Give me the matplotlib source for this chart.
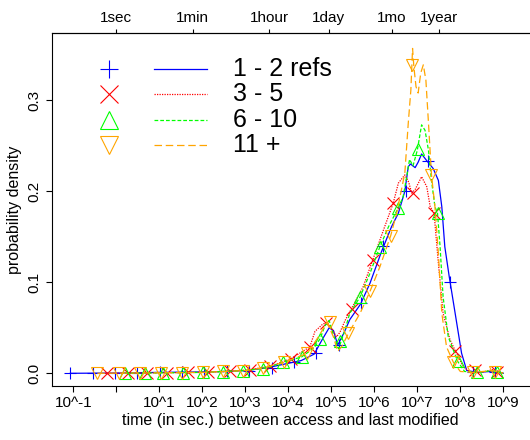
import numpy as np
import matplotlib.pyplot as plt
from matplotlib.lines import Line2D

plt.rcParams['font.family'] = ['Liberation Sans', 'DejaVu Sans']

# density curves, x = log10(seconds)
blue_x = [-1.07, 0, 1, 2, 2.5, 3, 3.5, 4, 4.3, 4.6, 4.8, 4.95, 5.05, 5.15, 5.3, 5.43, 5.68, 5.9,
          6.17, 6.4, 6.56, 6.71, 6.79, 6.84, 6.95, 7.02, 7.1, 7.23, 7.37, 7.49, 7.57, 7.64, 7.74,
          7.88, 8.03, 8.15, 8.4, 8.7, 8.85, 9.0]
blue_y = [0, 0.0003, 0.001, 0.0015, 0.002, 0.003, 0.006, 0.011, 0.014, 0.021, 0.038, 0.05, 0.047,
          0.031, 0.045, 0.059, 0.076, 0.099, 0.134, 0.161, 0.176, 0.2, 0.227, 0.23, 0.226, 0.232,
          0.241, 0.233, 0.225, 0.212, 0.183, 0.139, 0.107, 0.066, 0.022, 0.003, 0.001, 0.002, 0.001, 0.0]

red_x = [-0.26, 1, 2, 2.6, 3.1, 3.6, 4.06, 4.5, 4.62, 4.8, 4.9, 5.0, 5.12, 5.2, 5.32, 5.47, 5.74,
         5.96, 6.21, 6.44, 6.56, 6.71, 6.8, 6.87, 6.95, 7.1, 7.22, 7.3, 7.39, 7.49, 7.6, 7.76, 7.88,
         8.07, 8.25, 8.5, 8.75, 8.9, 9.0]
red_y = [0, 0.0005, 0.001, 0.002, 0.004, 0.008, 0.016, 0.029, 0.046, 0.054, 0.056, 0.05, 0.04,
         0.045, 0.058, 0.071, 0.095, 0.124, 0.157, 0.187, 0.209, 0.218, 0.21, 0.198, 0.202, 0.216,
         0.205, 0.183, 0.176, 0.121, 0.066, 0.037, 0.025, 0.007, 0.001, 0.001, 0.004, 0.002, 0.0]

green_x = [0.2, 1, 2, 2.5, 3, 3.5, 3.88, 4.31, 4.6, 4.74, 4.85, 4.95, 5.05, 5.17, 5.3, 5.43, 5.67,
           5.9, 6.13, 6.33, 6.56, 6.67, 6.75, 6.82, 6.9, 7.0, 7.1, 7.18, 7.26, 7.33, 7.41, 7.47,
           7.53, 7.6, 7.72, 7.94, 8.1, 8.4, 8.75, 9.0]
green_y = [0, 0.0005, 0.001, 0.002, 0.003, 0.006, 0.012, 0.018, 0.028, 0.038, 0.052, 0.058, 0.042,
           0.027, 0.045, 0.066, 0.084, 0.11, 0.139, 0.161, 0.182, 0.194, 0.215, 0.235, 0.228, 0.245,
           0.273, 0.267, 0.245, 0.212, 0.183, 0.176, 0.139, 0.084, 0.04, 0.013, 0.002, 0.001, 0.003, 0.0]

orange_x = [-0.44, 1, 2, 2.5, 3, 3.42, 3.9, 4.44, 4.7, 4.9, 5.05, 5.15, 5.25, 5.4, 5.67, 5.9, 6.13,
            6.38, 6.52, 6.71, 6.79, 6.85, 6.89, 6.92, 6.97, 7.02, 7.08, 7.14, 7.2, 7.26, 7.33, 7.41,
            7.49, 7.57, 7.68, 7.84, 8.0, 8.3, 8.75, 9.0]
orange_y = [0, 0.0005, 0.001, 0.002, 0.003, 0.006, 0.012, 0.022, 0.04, 0.056, 0.04, 0.024, 0.03,
            0.044, 0.066, 0.09, 0.117, 0.151, 0.176, 0.22, 0.275, 0.311, 0.357, 0.337, 0.315, 0.308,
            0.33, 0.339, 0.322, 0.275, 0.218, 0.183, 0.132, 0.066, 0.029, 0.012, 0.002, 0.001, 0.003, 0.0]

# marker points along each curve
blue_mx = [-1.07, -0.55, -0.03, 0.49, 1.01, 1.53, 2.05, 2.57, 3.09, 3.61, 4.13, 4.65, 5.17, 5.69,
           6.21, 6.73, 7.25, 7.77, 8.29, 8.81]
blue_my = [0, 0, 0, 0.0005, 0.001, 0.001, 0.0015, 0.002, 0.003, 0.006, 0.012, 0.022, 0.031, 0.077,
           0.14, 0.2, 0.233, 0.1, 0.001, 0.001]
red_mx = [-0.22, 0.28, 0.72, 1.17, 1.67, 2.14, 2.64, 3.1, 3.58, 4.06, 4.5, 4.88, 5.47, 5.96, 6.44,
          6.91, 7.39, 7.88, 8.34, 8.85]
red_my = [0, 0, 0, 0.0005, 0.001, 0.001, 0.002, 0.004, 0.008, 0.016, 0.029, 0.055, 0.071, 0.124,
          0.187, 0.198, 0.176, 0.025, 0.004, 0.001]
green_mx = [0.2, 0.67, 1.09, 1.56, 2.02, 2.49, 2.94, 3.41, 3.88, 4.31, 4.74, 5.2, 5.67, 6.13, 6.56,
            7.02, 7.47, 7.94, 8.4, 8.85]
green_my = [0, 0, 0, 0, 0.001, 0.001, 0.002, 0.005, 0.012, 0.018, 0.038, 0.035, 0.084, 0.139, 0.182,
            0.247, 0.176, 0.013, 0.001, 0.001]
orange_mx = [-0.44, 0.07, 0.55, 1.03, 1.53, 2.01, 2.49, 2.95, 3.42, 3.9, 4.44, 4.97, 5.4, 5.9, 6.38,
             6.87, 7.33, 7.84, 8.3, 8.8]
orange_my = [0, 0, 0, 0, 0.0005, 0.001, 0.002, 0.003, 0.006, 0.012, 0.022, 0.056, 0.044, 0.09,
             0.151, 0.339, 0.218, 0.012, 0.001, 0.001]

labels = ['1 - 2 refs', '3 - 5', '6 - 10', '11 +']
xtick_vals = [-1, 0, 1, 2, 3, 4, 5, 6, 7, 8, 9]
xtick_labels = ['10^-1', '', '10^1', '10^2', '10^3', '10^4', '10^5', '10^6', '10^7', '10^8', '10^9']
top_secs = [1, 60, 3600, 86400, 30 * 86400, 365 * 86400]
top_labels = ['1sec', '1min', '1hour', '1day', '1mo', '1year']

series = [
    (blue_x, blue_y, blue_mx, blue_my, '#0000FF', '+', '-'),
    (red_x, red_y, red_mx, red_my, '#FF0000', 'x', (0, (1, 1))),
    (green_x, green_y, green_mx, green_my, '#00FF00', '^', (0, (3, 1.6))),
    (orange_x, orange_y, orange_mx, orange_my, '#FFA500', 'v', (0, (6, 3))),
]

fig = plt.figure(figsize=(5.3, 4.4), dpi=100)
ax = fig.add_axes([51.5 / 530, 54 / 440, 478.5 / 530, 352.7 / 440])

for x, y, mx, my, col, mk, ls in series:
    ax.plot(x, y, color=col, lw=0.9, ls=ls)
    ax.plot(mx, my, ls='none', marker=mk, color=col, ms=8, mew=0.8, fillstyle='none')

ax.set_xlim(-1.507, 9.621)
ax.set_ylim(-0.01396, 0.3736)
ax.spines['right'].set_visible(False)
ax.set_xticks(xtick_vals)
ax.set_xticklabels(xtick_labels)
ax.set_yticks([0, 0.1, 0.2, 0.3])
ax.set_yticklabels(['0.0', '0.1', '0.2', '0.3'], rotation=90, va='center')
ax.tick_params(direction='out', length=4, width=0.8, labelsize=11, pad=3)
ax.set_xlabel('time (in sec.) between access and last modified', fontsize=11.5, labelpad=2)
ax.set_ylabel('probability density', fontsize=11.5, labelpad=4)

top = ax.secondary_xaxis('top')
top.set_xticks(np.log10(top_secs))
top.set_xticklabels(top_labels)
top.tick_params(direction='out', length=3, width=0.8, labelsize=11, pad=3)

# R-style legend: marker column, line column, text column
for i, (x, y, mx, my, col, mk, ls) in enumerate(series):
    yy = 1 - (69 + 25.4 * i) / 440
    fig.add_artist(Line2D([109 / 530], [yy], marker=mk, color=col, ms=13, mew=0.8,
                          fillstyle='none', ls='none', transform=fig.transFigure))
    fig.add_artist(Line2D([154 / 530, 207 / 530], [yy, yy], color=col, lw=0.9, ls=ls,
                          transform=fig.transFigure))
    fig.text(233 / 530, yy, labels[i], fontsize=18, va='center', ha='left')

fig.savefig('out.png', dpi=100)
